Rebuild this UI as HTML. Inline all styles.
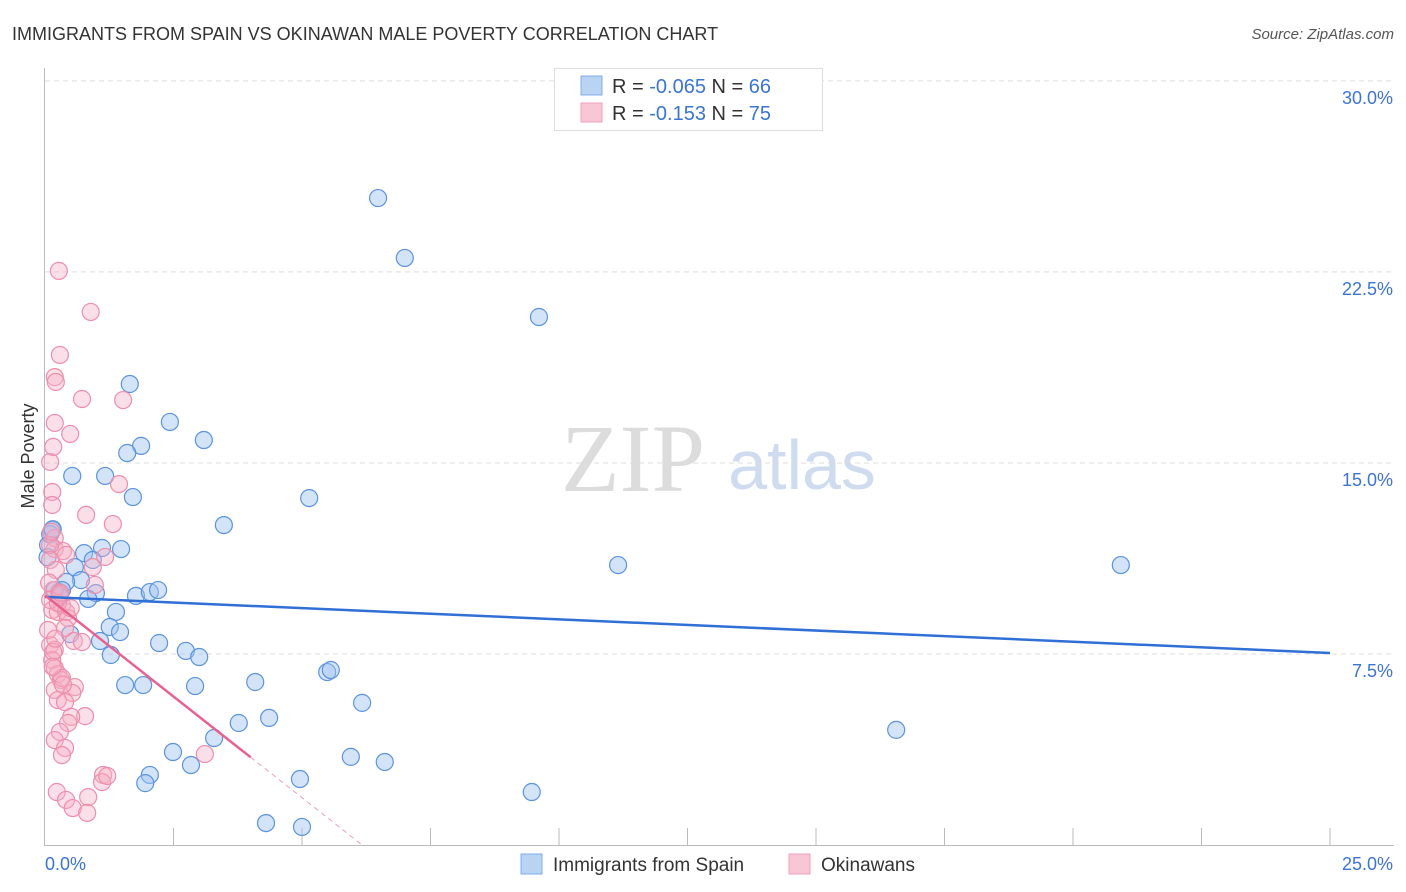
<!DOCTYPE html>
<html><head><meta charset="utf-8"><style>
body{margin:0;background:#fff;font-family:"Liberation Sans",sans-serif;}
#wrap{position:relative;width:1406px;height:892px;overflow:hidden;}
</style></head><body>
<div id="wrap">
<svg id="svg" width="1406" height="892" xmlns="http://www.w3.org/2000/svg" font-family="Liberation Sans, sans-serif">
<text x="12" y="40" font-size="18" fill="#333">IMMIGRANTS FROM SPAIN VS OKINAWAN MALE POVERTY CORRELATION CHART</text>
<text x="1394" y="39" font-size="15" fill="#555" font-style="italic" text-anchor="end">Source: ZipAtlas.com</text>
<text transform="translate(34,456) rotate(-90)" font-size="18" fill="#333" text-anchor="middle">Male Poverty</text>
<g>
<text x="633" y="491" font-size="96" fill="#dcdcdc" font-family="Liberation Serif, serif" text-anchor="middle">ZIP</text>
<text x="802" y="489" font-size="70" fill="#cfdcf0" text-anchor="middle">atlas</text>
</g>
<g id="grid"></g><g id="marks"></g>
<g>
<rect x="554.5" y="68.5" width="268" height="62" fill="#fff" stroke="#ddd"/>
<rect x="581" y="76" width="21" height="19" fill="#b9d3f3" stroke="#80aee8"/>
<rect x="581" y="103" width="21" height="19" fill="#f9c6d5" stroke="#f1a0b9"/>
<text x="612" y="93" font-size="20" fill="#333">R = <tspan fill="#3b74d1">-0.065</tspan>    N = <tspan fill="#3b74d1">66</tspan></text>
<text x="612" y="120" font-size="20" fill="#333">R =  <tspan fill="#3b74d1">-0.153</tspan>    N = <tspan fill="#3b74d1">75</tspan></text>
</g>
<g>
<rect x="521" y="854" width="21" height="20" fill="#b9d3f3" stroke="#80aee8"/>
<text x="553" y="871" font-size="19" fill="#333">Immigrants from Spain</text>
<rect x="789" y="854" width="21" height="20" fill="#f9c6d5" stroke="#f1a0b9"/>
<text x="821" y="871" font-size="19" fill="#333">Okinawans</text>
</g>
</svg></div>
<script>
const yTicks=[7.5,15,22.5,30];
const yTickLabels=["7.5%","15.0%","22.5%","30.0%"];
const xTickLabels=["0.0%","25.0%"];
const blueX=[6.48,7.00,9.61,1.65,2.43,1.87,1.60,3.09,1.17,0.53,1.71,5.14,3.48,0.14,1.48,1.11,0.76,0.93,0.58,0.70,0.41,0.27,0.99,0.84,1.77,2.04,2.20,1.38,1.26,1.46,0.49,1.07,2.22,2.74,3.00,1.28,1.56,1.91,2.92,4.09,5.49,5.56,6.17,4.36,3.77,3.29,2.49,2.84,2.04,1.95,5.95,6.61,4.96,9.47,4.30,5.00,11.15,20.93,16.56,0.29,0.06,0.19,0.33,0.10,0.05,0.15];
const blueY=[25.40,23.05,20.73,18.10,16.61,15.67,15.39,15.90,14.49,14.49,13.66,13.62,12.56,12.37,11.62,11.66,11.46,11.19,10.91,10.40,10.33,9.93,9.89,9.66,9.78,9.93,10.01,9.15,8.56,8.36,8.28,8.01,7.93,7.62,7.38,7.46,6.28,6.28,6.24,6.40,6.79,6.87,5.58,4.99,4.79,4.20,3.65,3.14,2.75,2.43,3.46,3.26,2.59,2.08,0.86,0.71,10.99,10.99,4.52,9.74,11.78,10.01,10.01,12.2,11.3,12.4];
const pinkX=[0.27,0.89,0.29,0.19,0.21,0.72,1.52,0.19,0.49,0.10,0.16,0.14,0.14,0.80,1.32,1.44,0.19,0.19,0.35,0.10,1.17,0.93,0.10,0.16,0.14,0.25,0.33,0.41,0.45,0.39,0.56,0.72,0.10,0.19,0.14,0.19,0.25,0.31,0.19,0.58,0.33,0.25,0.53,0.39,0.78,0.51,0.45,0.29,0.19,0.39,0.33,1.13,1.11,1.21,3.11,0.23,0.41,0.84,0.54,0.82,0.21,0.29,0.10,0.06,0.16,0.41,0.97,0.12,0.25,0.08,0.30,0.20,0.50,0.15,0.35];
const pinkY=[22.54,20.93,19.24,18.37,18.18,17.51,17.47,16.57,16.14,15.04,15.63,13.86,13.35,12.96,12.60,14.17,12.05,11.62,11.54,11.78,11.31,10.91,11.19,10.01,9.23,9.15,9.42,9.15,8.91,8.52,8.01,7.97,7.85,7.66,7.26,6.95,6.71,6.48,6.09,6.20,6.56,5.69,5.97,5.61,5.06,5.03,4.79,4.44,4.12,3.81,3.53,2.75,2.47,2.71,3.57,2.08,1.77,1.88,1.45,1.26,10.80,9.82,9.62,8.44,7.58,11.39,10.21,12.3,9.5,10.3,9.9,8.1,9.3,7.0,6.3];
const blueLine=[9.74,7.54];
const pinkLine=[9.8,0];
const pinkSolidEnd=4.0, pinkZeroX=6.17;
const X=v=>45+v*51.4, Y=v=>845-v*25.47;
const NS="http://www.w3.org/2000/svg";
const svg=document.getElementById('svg'),grid=document.getElementById('grid'),marks=document.getElementById('marks');
function mk(tag,a,parent){const e=document.createElementNS(NS,tag);for(const k in a)e.setAttribute(k,a[k]);parent.appendChild(e);return e;}
yTicks.forEach((t,i)=>{
 const l=mk('line',{x1:45,x2:1394,y1:Y(t),y2:Y(t),stroke:'#ddd','stroke-dasharray':'5,4'},grid);
 
 
 const tx=mk('text',{x:1393,y:Y(t)+23,'font-size':18,fill:'#3b74d1','text-anchor':'end'},grid);
 tx.textContent=yTickLabels[i];
 
 
});
for(let i=1;i<=10;i++){
 const l=mk('line',{x1:X(i*2.5),x2:X(i*2.5),y1:828,y2:845,stroke:'#bbb'},grid);
 
 
}
const ax=mk('path',{d:'M44.5 68 V845.5 H1394',fill:'none',stroke:'#bbb'},grid);


const xl0=mk('text',{x:45,y:870,'font-size':18,fill:'#3b74d1'},grid);xl0.textContent=xTickLabels[0];


const xl1=mk('text',{x:1393,y:870,'font-size':18,fill:'#3b74d1','text-anchor':'end'},grid);xl1.textContent=xTickLabels[1];


blueX.forEach((x,i)=>{
 const c=mk('circle',{cx:X(x),cy:Y(blueY[i]),r:8.5,fill:'rgba(160,196,240,0.45)',stroke:'#5b93de','stroke-width':1.2},marks);
 
 
});
pinkX.forEach((x,i)=>{
 const c=mk('circle',{cx:X(x),cy:Y(pinkY[i]),r:8.5,fill:'rgba(246,176,198,0.4)',stroke:'#ee8eac','stroke-width':1.2},marks);
 
 
});
const bl=mk('line',{x1:X(0),y1:Y(blueLine[0]),x2:X(25),y2:Y(blueLine[1]),stroke:'#2f6fd6','stroke-width':2.5},marks);


const py=x=>pinkLine[0]+(pinkLine[1]-pinkLine[0])*x/pinkZeroX;
const pl=mk('line',{x1:X(0),y1:Y(pinkLine[0]),x2:X(pinkSolidEnd),y2:Y(py(pinkSolidEnd)),stroke:'#e8628f','stroke-width':2.5},marks);


const pd=mk('line',{x1:X(pinkSolidEnd),y1:Y(py(pinkSolidEnd)),x2:X(pinkZeroX),y2:Y(0),stroke:'#e8a0b8','stroke-width':1,'stroke-dasharray':'5,4'},marks);


</script>
</body></html>
